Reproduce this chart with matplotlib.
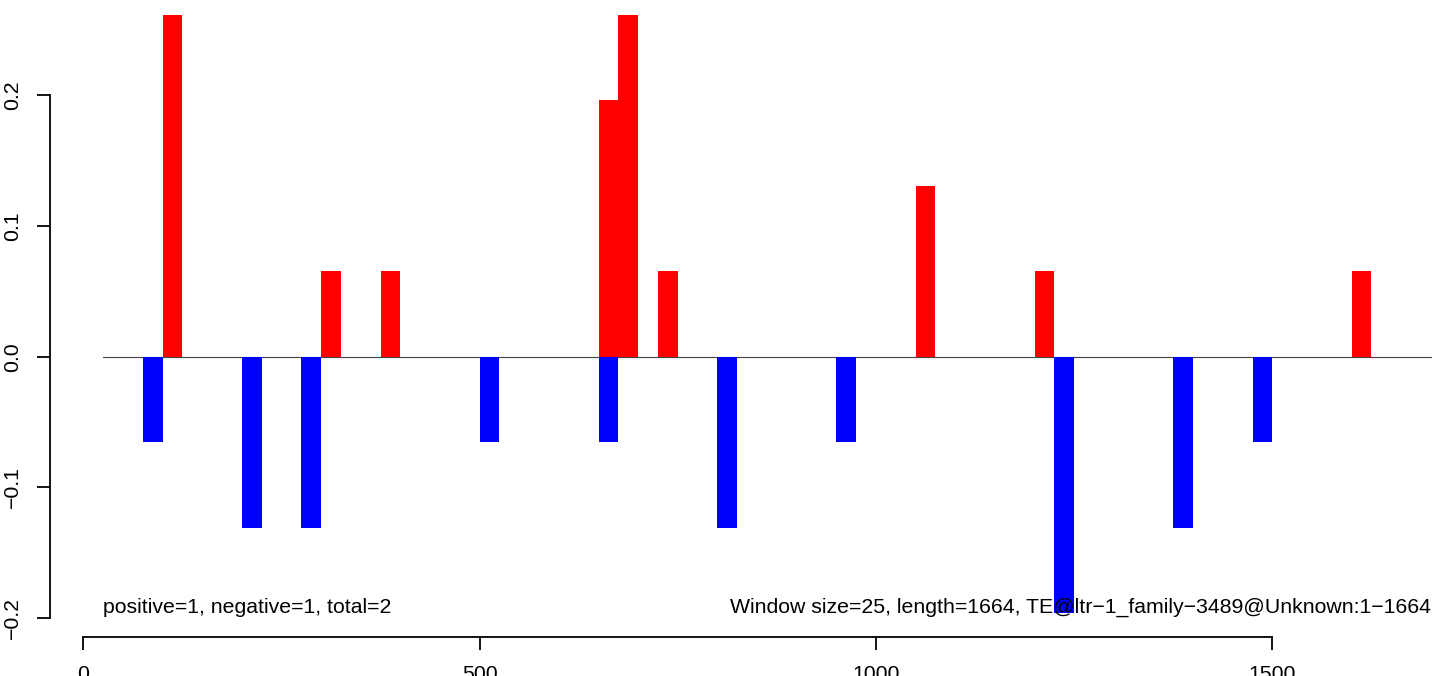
import matplotlib.pyplot as plt
import numpy as np

plt.rcParams['font.family'] = ['Liberation Sans', 'DejaVu Sans']

# window data (start position of each 25-bp window and its score)
window = 25
seq_len = 1664
unit = 0.0654

pos_starts = [100, 300, 375, 650, 675, 725, 1050, 1200, 1600]
pos_vals = [4 * unit, unit, unit, 3 * unit, 4 * unit, unit, 2 * unit, unit, unit]

neg_starts = [75, 200, 275, 500, 650, 800, 950, 1225, 1375, 1475]
neg_vals = [-unit, -2 * unit, -2 * unit, -unit, -unit, -2 * unit, -unit, -3 * unit, -2 * unit, -unit]

x_range = (25, 1700)
xticks = [0, 500, 1000, 1500]
yticks = [-0.2, -0.1, 0.0, 0.1, 0.2]

left_text = 'positive=1, negative=1, total=2'
right_text = 'Window size=25, length=1664, TE@ltr\u22121_family\u22123489@Unknown:1\u22121664'

W, H = 1444, 676
fig = plt.figure(figsize=(W / 100, H / 100), dpi=100)

# plot region in pixels (R-style, partly outside the saved image)
px_left, px_right, px_bottom, px_top = 50, 1484, 637, -9
ax = fig.add_axes([px_left / W, (H - px_bottom) / H,
                   (px_right - px_left) / W, (px_bottom - px_top) / H])


def r_lim(lo, hi):
    d = 0.04 * (hi - lo)
    return lo - d, hi + d


ax.set_xlim(*r_lim(*x_range))
ax.set_ylim(*r_lim(min(neg_vals), max(pos_vals)))

ax.bar(neg_starts, neg_vals, width=window, align='edge', color='#0000FF', linewidth=0, zorder=2)
ax.bar(pos_starts, pos_vals, width=window, align='edge', color='#FF0000', linewidth=0, zorder=2)

ax.plot(x_range, [0, 0], color='#444444', linewidth=0.8, zorder=1)

fs = 15.3
ymin = min(neg_vals)
ax.text(x_range[0], ymin, left_text, ha='left', va='baseline', fontsize=fs, zorder=3)
ax.text(x_range[1], ymin, right_text, ha='right', va='baseline', fontsize=fs, zorder=3)

# R-like axes
for s in ['top', 'right']:
    ax.spines[s].set_visible(False)
ax.spines['left'].set_bounds(yticks[0], yticks[-1])
ax.spines['bottom'].set_bounds(xticks[0], xticks[-1])
for s in ['left', 'bottom']:
    ax.spines[s].set_linewidth(1.3)

ax.set_xticks(xticks)
ax.set_xticklabels([str(t) for t in xticks])
ax.set_yticks(yticks)
ax.set_yticklabels([f'{t:.1f}'.replace('-', '\u2212') for t in yticks])
ax.tick_params(axis='both', length=9.4, width=1.3, labelsize=fs)
ax.tick_params(axis='y', pad=11)
ax.tick_params(axis='x', pad=11)
plt.setp(ax.get_yticklabels(), rotation=90, va='center')

fig.savefig('out.png', dpi=100)
